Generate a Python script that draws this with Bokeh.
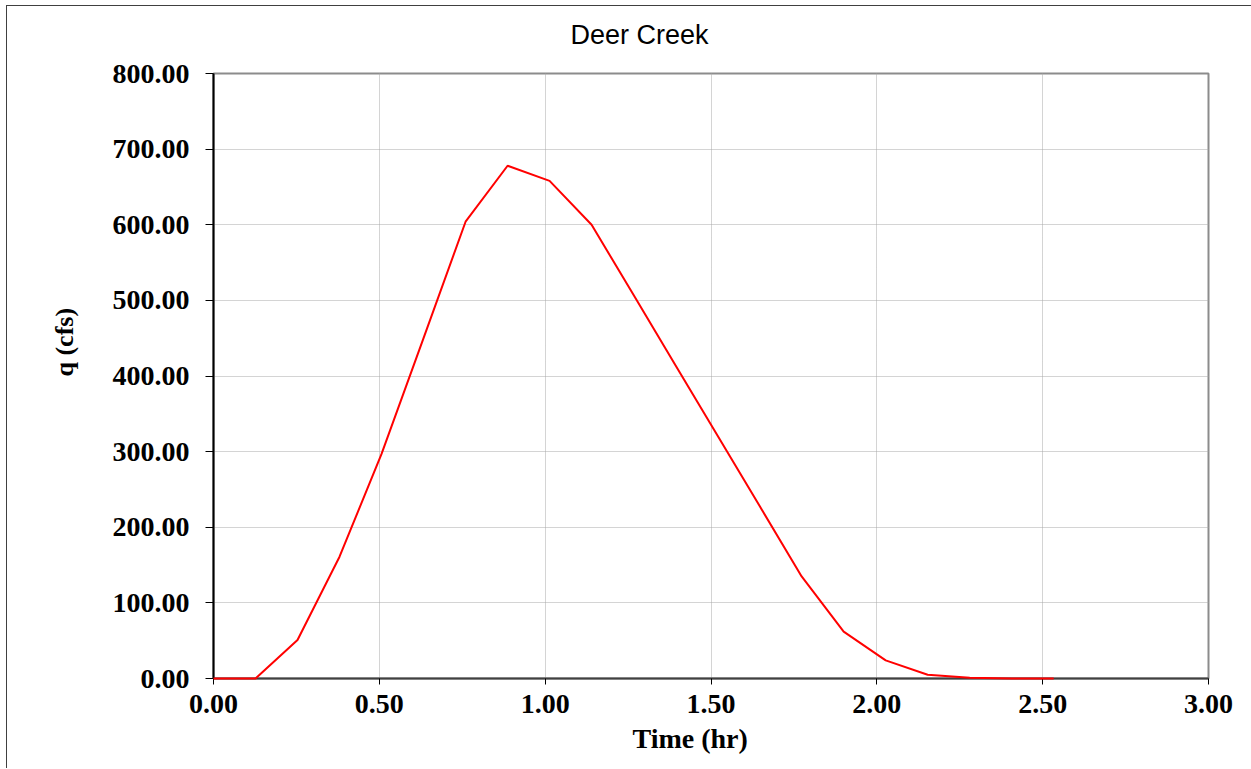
from bokeh.plotting import figure
from bokeh.models import Range1d, NumeralTickFormatter, FixedTicker, Title
from bokeh.embed import file_html
from bokeh.resources import INLINE

time_hr = [0.0, 0.1267, 0.2533, 0.38, 0.5067, 0.6333, 0.76, 0.8867, 1.0133, 1.14,
           1.2667, 1.3933, 1.52, 1.6467, 1.7733, 1.90, 2.0267, 2.1533, 2.28, 2.4067, 2.5333]
q_cfs = [0, 0, 51, 161, 297, 450, 604, 678, 658, 600,
         507, 414, 321, 228, 135, 62, 24, 5, 1, 0, 0]
x_ticks = [0.0, 0.5, 1.0, 1.5, 2.0, 2.5, 3.0]
y_ticks = [0, 100, 200, 300, 400, 500, 600, 700, 800]
title_text = "Deer Creek"
x_label = "Time (hr)"
y_label = "q (cfs)"

p = figure(width=1245, height=764, output_backend="svg", toolbar_location=None,
           x_range=Range1d(0, 3), y_range=Range1d(0, 800),
           frame_width=995, frame_height=605,
           min_border_left=206, min_border_right=43, min_border_top=67, min_border_bottom=90)
p.margin = (5, 0, 0, 6)
p.styles = {"border-left": "1px solid #404040", "border-top": "1px solid #404040",
            "border-right": "1px solid #404040"}
p.background_fill_color = "white"
p.border_fill_color = "white"
p.outline_line_color = "#8c8c8c"
p.outline_line_width = 2

p.line(time_hr, q_cfs, line_color="#ff0000", line_width=2, level="overlay")

for ax in (p.xaxis[0], p.yaxis[0]):
    ax.major_label_text_font = "Liberation Serif"
    ax.major_label_text_font_style = "bold"
    ax.major_label_text_font_size = "28px"
    ax.major_label_text_color = "black"
    ax.minor_tick_line_color = None
    ax.major_tick_in = 0
    ax.major_tick_line_color = "black"
    ax.major_tick_line_width = 1
    ax.formatter = NumeralTickFormatter(format="0.00")

p.xaxis.ticker = FixedTicker(ticks=x_ticks)
p.yaxis.ticker = FixedTicker(ticks=y_ticks)
p.xaxis.major_tick_out = 6
p.yaxis.major_tick_out = 8
p.xaxis.major_label_standoff = 10
p.yaxis.major_label_standoff = 16
p.xaxis.axis_line_color = "#404040"
p.xaxis.axis_line_width = 2
p.yaxis.axis_line_color = "black"
p.yaxis.axis_line_width = 2

p.xgrid.ticker = FixedTicker(ticks=x_ticks)
p.ygrid.ticker = FixedTicker(ticks=y_ticks)
for g in (p.xgrid[0], p.ygrid[0]):
    g.grid_line_color = "#a8a8a8"
    g.grid_line_dash = "1 1"
    g.grid_line_width = 1

p.title.text = ""
# spacer between frame and title
p.add_layout(Title(text=" ", text_font_size="1px", standoff=9), "above")
p.add_layout(Title(text=title_text, align="left", offset=357, vertical_align="top",
                   text_font="Liberation Sans", text_font_style="normal",
                   text_font_size="27px", text_color="black", standoff=20), "above")

p.add_layout(Title(text=x_label, align="left", offset=419, text_font="Liberation Serif",
                   text_font_style="bold", text_font_size="28px", text_color="black",
                   standoff=10), "below")
p.add_layout(Title(text=y_label, align="left", offset=302, text_font="Liberation Serif",
                   text_font_style="bold", text_font_size="26px", text_color="black",
                   standoff=62), "left")

open("out.html", "w").write(file_html(p, INLINE))
